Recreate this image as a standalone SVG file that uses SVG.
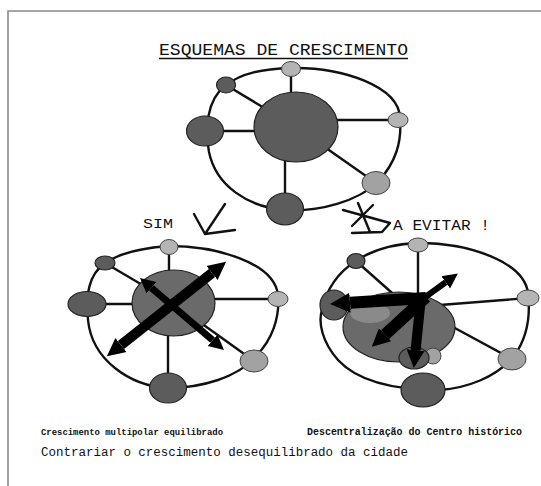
<svg xmlns="http://www.w3.org/2000/svg" width="541" height="486" viewBox="0 0 541 486">
  <style>
    .loop { fill: none; stroke: #111; stroke-width: 2.4; }
    .spoke { stroke: #111; stroke-width: 2.4; fill: none; }
    .dark { fill: #5c5c5c; stroke: #222; stroke-width: 1.2; }
    .mid { fill: #6a6a6a; stroke: #222; stroke-width: 1.2; }
    .light { fill: #b4b4b4; stroke: #444; stroke-width: 1; }
    .grey { fill: #a2a2a2; stroke: #444; stroke-width: 1; }
    .mark { fill: none; stroke: #111; stroke-width: 2.4; stroke-linecap: round; stroke-linejoin: round; }
    .shaft { stroke: #000; fill: none; }
    .mono { font-family: "Liberation Mono", "DejaVu Sans Mono", monospace; fill: #111; }
  </style>
  <defs>
    <marker id="head" viewBox="0 0 10 10" refX="0" refY="5" markerUnits="userSpaceOnUse" markerWidth="18" markerHeight="22" orient="auto-start-reverse">
      <path d="M0,0 L10,5 L0,10 Z" fill="#000"/>
    </marker>
    <marker id="headS" viewBox="0 0 10 10" refX="0" refY="5" markerUnits="userSpaceOnUse" markerWidth="15" markerHeight="18" orient="auto-start-reverse">
      <path d="M0,0 L10,5 L0,10 Z" fill="#000"/>
    </marker>
    <marker id="headL" viewBox="0 0 10 10" refX="0" refY="5" markerUnits="userSpaceOnUse" markerWidth="20" markerHeight="26" orient="auto">
      <path d="M0,0 L10,5 L0,10 Z" fill="#000"/>
    </marker>
  </defs>

  <rect width="541" height="486" fill="#fff"/>
  <!-- page frame -->
  <path d="M8,486 V11 H541" fill="none" stroke="#8a8a8a" stroke-width="1.6"/>

  <!-- title -->
  <g id="title">
    <text class="mono" x="159" y="55" font-size="17" textLength="249" lengthAdjust="spacingAndGlyphs">ESQUEMAS DE CRESCIMENTO</text>
    <line x1="159" y1="58.5" x2="408" y2="58.5" stroke="#111" stroke-width="1.3"/>
  </g>

  <!-- top scheme: current structure -->
  <g id="scheme-top">
    <path class="loop" d="M226,85 C242,73 262,69 291,68 C342,67 399,86 400,118 C402,142 396,162 378,182 C358,201 320,212 285,210 C248,207 216,186 209,152 C205,130 206,100 226,85 Z"/>
    <path class="spoke" d="M291,69 V127 M226,85 L296,127 M205,131 H296 M398,120 H296 M376,183 L296,127 M285,209 V127"/>
    <ellipse class="dark" cx="296" cy="127" rx="42" ry="35"/>
    <ellipse class="light" cx="291" cy="69" rx="9.5" ry="7.5"/>
    <ellipse class="dark" cx="226" cy="85" rx="9.5" ry="8"/>
    <ellipse class="dark" cx="205" cy="131" rx="18.5" ry="15"/>
    <ellipse class="light" cx="398" cy="120" rx="10" ry="7.5"/>
    <ellipse class="grey" cx="376" cy="183" rx="14" ry="11.5"/>
    <ellipse class="dark" cx="285" cy="209" rx="18.5" ry="16"/>
  </g>

  <!-- verdict marks -->
  <g id="label-sim">
    <text class="mono" x="143" y="228" font-size="13" textLength="30" lengthAdjust="spacingAndGlyphs">SIM</text>
    <path class="mark" d="M194,214 L205,234 L235,230 M205,234 L225,204"/>
  </g>
  <g id="label-evitar">
    <path class="mark" d="M343,210 L390,223 M358,203 L370,232 M373,205 L352,226 M352,233 L382,232 L390,223"/>
    <text class="mono" x="393" y="230" font-size="14" textLength="97" lengthAdjust="spacingAndGlyphs">A EVITAR  !</text>
  </g>

  <!-- lower left: balanced multipolar growth -->
  <g id="scheme-sim">
    <path class="loop" d="M105,263 C120,253 140,248 169,246 C215,246 274,262 278,295 C280,318 272,340 256,356 C238,378 200,388 168,388 C130,386 92,360 88,320 C86,295 88,275 105,263 Z"/>
    <path class="spoke" d="M169,247 V303 M105,263 L173,303 M87,304 H173 M278,299 H173 M254,361 L173,303 M168,388 V303"/>
    <ellipse class="mid" cx="173.5" cy="303" rx="41.5" ry="33"/>
    <ellipse class="light" cx="169" cy="247" rx="9" ry="7.5"/>
    <ellipse class="dark" cx="105" cy="263" rx="10" ry="7"/>
    <ellipse class="dark" cx="87" cy="304" rx="19" ry="12.5"/>
    <ellipse class="light" cx="278" cy="299" rx="10" ry="7.5"/>
    <ellipse class="grey" cx="254" cy="361" rx="14" ry="11"/>
    <ellipse class="dark" cx="168" cy="388" rx="18.5" ry="15"/>
    <line class="shaft" x1="121" y1="345" x2="212" y2="273" stroke-width="10" marker-start="url(#head)" marker-end="url(#head)"/>
    <line class="shaft" x1="151.4" y1="287.8" x2="212.6" y2="340.2" stroke-width="7" marker-start="url(#headS)" marker-end="url(#headS)"/>
  </g>

  <!-- lower right: decentralised historic centre -->
  <g id="scheme-evitar">
    <path class="loop" d="M356,261 C372,250 392,244 418,243 C470,243 524,262 528,293 C531,318 527,338 514,356 C496,378 466,388 440,390 C400,390 360,384 338,360 C322,342 318,322 322,310 C326,290 338,272 356,261 Z"/>
    <path class="spoke" d="M418,245 V300 M356,261 L400,300 M528,298 L440,305 M512,359 L440,320"/>
    <ellipse class="dark" cx="334" cy="305" rx="14" ry="15"/>
    <ellipse class="mid" cx="399" cy="327" rx="56" ry="35"/>
    <ellipse cx="370" cy="313" rx="20" ry="10" fill="#8a8a8a"/>
    <ellipse class="grey" cx="433" cy="356" rx="8" ry="8"/>
    <ellipse class="dark" cx="414" cy="358" rx="15" ry="11"/>
    <ellipse class="light" cx="418" cy="245" rx="10" ry="7"/>
    <ellipse class="dark" cx="356" cy="261" rx="9" ry="7.5"/>
    <ellipse class="light" cx="528" cy="298" rx="11" ry="8"/>
    <ellipse class="grey" cx="512" cy="359" rx="14" ry="11"/>
    <ellipse class="dark" cx="423" cy="390" rx="22" ry="17"/>
    <line class="shaft" x1="424" y1="298" x2="445.7" y2="282.3" stroke-width="6" marker-end="url(#headS)"/>
    <line class="shaft" x1="426" y1="298" x2="350" y2="302.7" stroke-width="12" marker-end="url(#headL)"/>
    <line class="shaft" x1="426" y1="297" x2="385.1" y2="334.6" stroke-width="12" marker-end="url(#head)"/>
    <line class="shaft" x1="421" y1="297" x2="415.6" y2="350.2" stroke-width="10" marker-end="url(#head)"/>
  </g>

  <!-- captions -->
  <g id="captions">
    <text class="mono" x="41" y="435" font-size="9" font-weight="bold" textLength="182" lengthAdjust="spacingAndGlyphs">Crescimento multipolar equilibrado</text>
    <text class="mono" x="307" y="435" font-size="10" font-weight="bold" textLength="215" lengthAdjust="spacingAndGlyphs">Descentralização do Centro histórico</text>
    <text class="mono" x="41" y="456" font-size="12.5" textLength="367" lengthAdjust="spacingAndGlyphs">Contrariar o crescimento desequilibrado da cidade</text>
  </g>
</svg>
